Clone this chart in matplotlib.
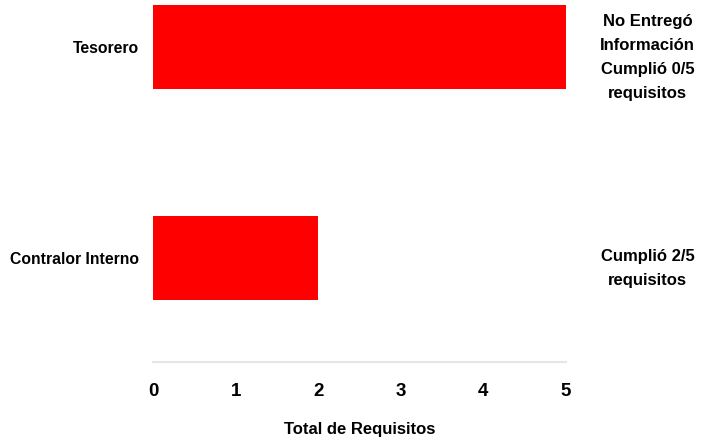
import matplotlib.pyplot as plt

categorias = ['Contralor Interno', 'Tesorero']
requisitos = [2, 5]
notas = ['Cumplió 2/5\nrequisitos', 'No Entregó\nInformación\nCumplió 0/5\nrequisitos']
ticks = [0, 1, 2, 3, 4, 5]

plt.rcParams['font.family'] = ['Liberation Sans', 'DejaVu Sans']
plt.rcParams['font.weight'] = 'bold'

fig = plt.figure(figsize=(7.16, 4.42), dpi=100)
ax = fig.add_axes([0.2137, 0.181, 0.5768, 0.819])

pos = list(range(len(categorias)))
ax.barh(pos, requisitos, height=0.395, color='#ff0000')

ax.set_xlim(0, 5)
ax.set_ylim(-0.493, 1.223)
ax.set_xticks(ticks)
ax.set_xticklabels([str(t) for t in ticks], fontsize=13.5, fontweight='bold')
ax.set_yticks(pos)
ax.set_yticklabels(categorias, fontsize=11.3, fontweight='bold')
ax.tick_params(axis='both', length=0)
ax.tick_params(axis='x', pad=15)
ax.tick_params(axis='y', pad=10)

for s in ['top', 'right', 'left']:
    ax.spines[s].set_visible(False)
ax.spines['bottom'].set_color('#e6e6e6')
ax.spines['bottom'].set_linewidth(1.5)

ax.set_xlabel('Total de Requisitos', fontsize=12, fontweight='bold', labelpad=16)

for p, n in zip(pos, notas):
    ax.text(5.99, p - 0.05, n, ha='center', va='center', fontsize=12,
            fontweight='bold', linespacing=1.75, clip_on=False)

fig.savefig('out.png', dpi=100)
